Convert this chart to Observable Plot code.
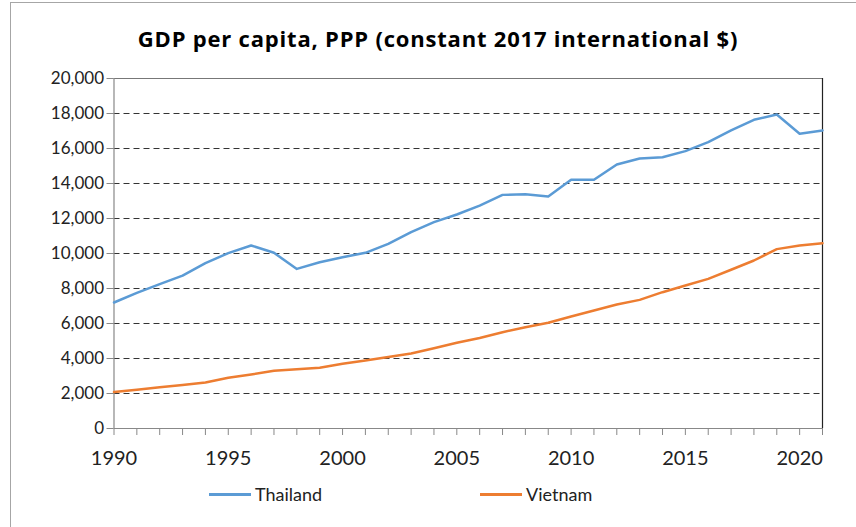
<!DOCTYPE html>
<html>
<head>
<meta charset="utf-8">
<script src="https://cdn.jsdelivr.net/npm/d3@7"></script>
<script src="https://cdn.jsdelivr.net/npm/@observablehq/plot@0.6"></script>
<style>
  html, body { margin: 0; padding: 0; background: #fff; }
  body { width: 856px; height: 527px; position: relative; overflow: hidden; font-family: Lato, "Open Sans", sans-serif; }
  #border { position: absolute; left: 10px; top: 2px; width: 900px; height: 600px; border: 1px solid #a6a6a6; box-sizing: border-box; }
  #title { position: relative; height: 60px; line-height: 76px; text-align: center; font-family: "Open Sans", sans-serif; font-weight: bold; font-size: 22px; letter-spacing: 0.8px; color: #000; padding-left: 20px; box-sizing: border-box; white-space: nowrap; }
  #chart { position: relative; height: 410px; }
  #legend { position: relative; height: 57px; font-size: 18px; color: #222; }
  .item { position: absolute; top: 13px; display: flex; align-items: center; }
  .swatch { width: 42px; height: 3px; margin-right: 4px; }
</style>
</head>
<body>
<div id="border"></div>
<div id="title">GDP per capita, PPP (constant 2017 international $)</div>
<div id="chart"></div>
<div id="legend"></div>
<script>
const years = d3.range(1990, 2022);
const thailand = [7200, 7750, 8250, 8740, 9450, 10020, 10460, 10040, 9120, 9500, 9790, 10040, 10550, 11220, 11790, 12230, 12740, 13350, 13390, 13260, 14210, 14210, 15090, 15430, 15500, 15850, 16360, 17030, 17640, 17940, 16840, 17030];
const vietnam = [2080, 2210, 2360, 2490, 2630, 2900, 3090, 3300, 3390, 3470, 3700, 3890, 4080, 4290, 4590, 4900, 5170, 5500, 5790, 6040, 6400, 6740, 7090, 7350, 7790, 8170, 8550, 9070, 9600, 10250, 10460, 10590];
const seriesNames = ["Thailand", "Vietnam"];
const seriesColors = ["#5B9BD5", "#ED7D31"];
const yTicks = d3.range(0, 20001, 2000);
const xTicks = years;

const rows = [
  ...years.map((y, i) => ({year: y, value: thailand[i], country: "Thailand"})),
  ...years.map((y, i) => ({year: y, value: vietnam[i], country: "Vietnam"}))
];

const plot = Plot.plot({
  width: 856,
  height: 410,
  marginLeft: 113.5,
  marginRight: 34,
  marginTop: 18,
  marginBottom: 42,
  style: { fontFamily: "Lato, 'Open Sans', sans-serif", color: "#222", background: "transparent" },
  x: { domain: [1990, 2021] },
  y: { domain: [0, 20000] },
  color: { domain: seriesNames, range: seriesColors },
  marks: [
    Plot.ruleY(yTicks.filter(d => d > 0 && d < 20000), { stroke: "#333", strokeWidth: 1, strokeDasharray: "6,4" }),
    Plot.ruleY([20000], { stroke: "#777", strokeWidth: 1.2 }),
    Plot.ruleX([2021], { stroke: "#222", strokeWidth: 1.2 }),
    Plot.axisY({ ticks: yTicks, tickFormat: d3.format(","), tickSize: 7, tickPadding: 3, fontSize: 17, stroke: "#888", label: null }),
    Plot.axisX({ ticks: xTicks, tickFormat: d => d % 5 === 0 ? String(d) : "", tickSize: 7, tickPadding: 15, fontSize: 20, stroke: "#888", label: null }),
    Plot.ruleX([1990], { stroke: "#888", strokeWidth: 1.2 }),
    Plot.ruleY([0], { stroke: "#888", strokeWidth: 1.2 }),
    Plot.line(rows, { x: "year", y: "value", z: "country", stroke: "country", strokeWidth: 2.5 })
  ]
});
document.getElementById("chart").appendChild(plot);

const legend = document.getElementById("legend");
const lefts = [209, 480];
seriesNames.forEach((name, i) => {
  const it = document.createElement("div");
  it.className = "item";
  it.style.left = lefts[i] + "px";
  const sw = document.createElement("div");
  sw.className = "swatch";
  sw.style.background = seriesColors[i];
  const tx = document.createElement("span");
  tx.textContent = name;
  it.appendChild(sw); it.appendChild(tx);
  legend.appendChild(it);
});
</script>
</body>
</html>
